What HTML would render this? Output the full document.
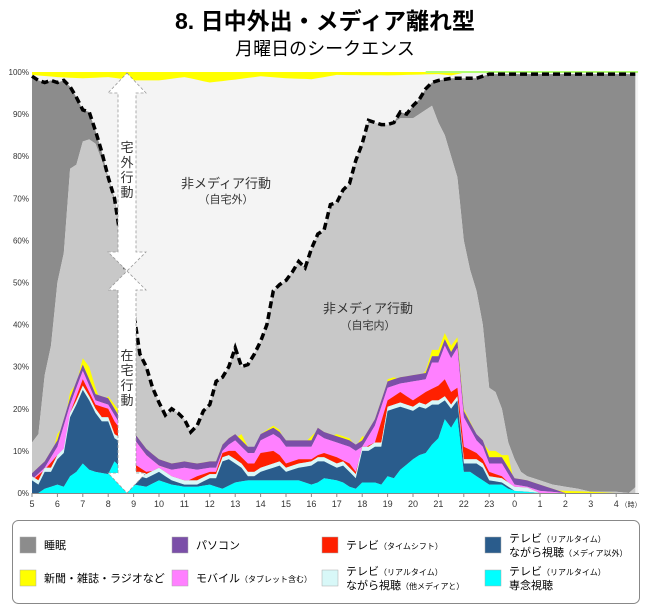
<!DOCTYPE html>
<html><head><meta charset="utf-8"><style>
body{margin:0;background:#fff;width:650px;height:611px;overflow:hidden;font-family:"Liberation Sans","Noto Sans CJK JP",sans-serif}
</style></head><body>
<svg id="s" width="650" height="611" xmlns="http://www.w3.org/2000/svg" font-family="Liberation Sans, Noto Sans CJK JP, sans-serif">
<text x="325" y="29" text-anchor="middle" font-size="23" font-weight="bold" fill="#000">8. 日中外出・メディア離れ型</text>
<text x="325" y="55" text-anchor="middle" font-size="18" fill="#000">月曜日のシークエンス</text>
<g id="plot"></g>
</svg>
<script>
const X=h=>32+(h-5)*25.4, Y=p=>493-p*4.21;
function P(s){const a=s.trim().split(/\s+/).map(t=>t.split(':').map(Number));return a;}
function at(pts,h){if(h<=pts[0][0])return pts[0][1];for(let i=1;i<pts.length;i++){if(h<=pts[i][0]){const[a,b]=pts[i-1],[c,d]=pts[i];return b+(d-b)*(h-a)/(c-a);}}return pts[pts.length-1][1];}
const H=[];for(let h=5;h<=28.87;h+=0.25)H.push(Math.min(h,28.86));
const cyan=P("5:0 5.25:0 5.5:1 6:2 6.25:1.5 6.5:4 6.75:5 7:7 7.25:5.5 7.5:5 8:4.5 8.25:7.5 8.5:6 9:2 9.5:1.5 10:3 10.5:2 11:1.5 11.5:1.5 12:2 12.5:1 13:2.5 13.5:3 14:3 15:3 15.5:3 16:2 16.25:2.5 16.5:3.5 17:3 17.25:2.5 17.5:1.5 17.75:1 18:2.5 18.5:2.5 18.75:2 19:4 19.25:3.5 19.5:5.5 20:8 20.25:9 20.5:9.5 20.75:11.5 21:13 21.25:17.5 21.5:15.5 21.75:18 22:5 22.25:5 22.5:4 22.75:3 23:2 23.5:2 23.75:1 24:0.5 25:0 29:0");
const blue=P("5:3 5.25:2 5.5:5 5.75:5 6:8 6.25:9.5 6.5:18 6.75:21 7:24.5 7.25:22 7.5:19 7.75:17 8:17 8.25:13 8.5:12 9:4 9.25:4 9.5:3.5 10:5 10.5:3 11:2 11.5:2 12:3.5 12.25:3.5 12.5:7.5 12.75:8 13:7 13.25:6 13.5:4 13.75:4 14:5 14.5:6 14.75:6.5 15:5 15.5:6 16:6.5 16.25:7.5 16.5:7.5 17:6 17.25:6.5 17.5:5 17.75:3.5 18:10 18.25:10 18.5:11 18.75:11 19:19.5 19.25:20 19.5:20.5 20:19.5 20.25:20.5 20.5:20 20.75:21 21:21 21.25:22 21.5:20 21.75:22 22:7 22.25:7 22.5:7 22.75:6 23:3 23.5:2.5 23.75:1.5 24:0.5 24.5:0.3 25:0 29:0");
const lc=blue.map(([h,v])=>[h,v>0?v+1:0]);
const red=P("5:3 5.5:5.5 6:9 6.25:10.5 6.5:19 7:27 7.5:21 8:20 8.25:17 8.5:15 9:7 9.5:5 10:5.5 10.5:3.5 11:2.5 11.5:4 12:5 12.25:5 12.5:9.5 12.75:10 13:10 13.5:7 13.75:7 14:9.5 14.5:10 14.75:9 15:7 15.5:8 16:8 16.25:9 16.5:9.5 17:8.5 17.5:7 17.75:5 18:10.5 18.5:12 19:22 19.5:24 20:22 20.5:24 21:25.5 21.25:27 21.5:24 21.75:25 22:11 22.5:9.5 22.75:8 23:5 23.5:4 24:1 24.5:0.5 25:0 29:0");
const pink=P("5:3.2 5.5:6 6:11 6.5:21 7:29 7.5:22 8:21 8.5:16 9:13 9.5:9 10:6.5 10.5:5.5 11:6 11.5:5.5 12:6 12.25:6 12.5:10 12.75:11.5 13:12.5 13.5:9.5 13.75:9.5 14:12.5 14.5:14 14.75:13 15:11 15.5:11 16:11 16.25:14 16.5:13 17:12 17.5:11 17.75:10 18:11 18.5:16 19:25 19.5:26 20:26.5 20.5:27 20.75:31 21:31 21.25:35 21.5:32 21.75:34.5 22:18 22.5:12.5 22.75:11 23:7 23.5:7 24:2 24.5:1.5 25:0.5 26:0 29:0");
const purp=pink.map(([h,v])=>[h,v>0.3?v+1.5:v]);
const yel=P("5:3.5 5.25:3.5 5.5:7 5.75:8 6:14 6.25:16 6.5:24 6.75:26 7:32 7.25:30 7.5:25 7.75:21 8:23 8.25:21 8.5:19 9:14 9.25:10 9.5:8 9.75:8.5 10:6 10.25:5.5 10.5:6 10.75:7 11:6.5 11.5:6 12:6.5 12.25:6.5 12.5:10.5 12.75:12.5 13:13 13.25:14 13.5:11 13.75:11 14:14 14.25:15 14.5:16 14.75:15 15:11.5 15.5:12 15.75:12 16:13.5 16.25:15 16.5:14 16.75:13.5 17:14 17.25:13.5 17.5:13 17.75:11 18:13.5 18.25:13 18.5:17 18.75:18 19:27 19.25:27.5 19.5:27 19.75:27.5 20:27 20.25:27.5 20.5:29 20.75:34 21:34 21.25:38 21.5:35 21.75:37 22:20 22.25:17 22.5:14 22.75:12 23:10 23.25:10 23.5:9 23.75:9 24:2 24.5:2 25:1 26:0.5 27:0.3 28:0 29:0");
const dash=P("5:99 5.25:98 5.5:97.5 5.75:98 6:97.5 6.25:98 6.5:96.5 6.75:94 7:91 7.25:90.5 7.5:86 7.75:81 8:75 8.25:70 8.5:60 8.75:50 9:43 9.25:33 9.5:30 9.75:25 10:21.5 10.25:18.5 10.5:20 10.75:19 11:17.5 11.25:14.5 11.5:16 11.75:19.5 12:21 12.25:26.5 12.5:27.5 12.75:30 13:34.5 13.25:30 13.5:30.5 13.75:33 14:36 14.25:40 14.5:48 14.75:49.5 15:50.5 15.25:52.5 15.5:55 15.75:53.5 16:58 16.25:61.5 16.5:62.5 16.75:68.5 17:69 17.25:72 17.5:73.5 17.75:79 18:83 18.25:88.5 18.5:88 18.75:87.5 19:87.5 19.25:88 19.5:90.5 19.75:90 20:92 20.25:93.5 20.5:96 20.75:97.5 21:98 21.5:98.5 22.5:98.5 23:99.5 29:99.5");
const lg=P("5:12 5.25:14 5.5:28 5.75:35 6:50 6.25:57 6.5:77 6.75:78 7:83.5 7.25:84 7.5:83 7.75:79 8:74.5 8.25:69 8.5:59.5 8.75:50 9:43 9.25:33 9.5:30 9.75:25 10:21.5 10.25:18.5 10.5:20 10.75:19 11:17.5 11.25:14.5 11.5:16 11.75:19.5 12:21 12.25:26.5 12.5:27.5 12.75:30 13:34.5 13.25:30 13.5:30.5 13.75:33 14:36 14.25:40 14.5:48 14.75:49.5 15:50.5 15.25:52.5 15.5:55 15.75:53.5 16:58 16.25:61.5 16.5:62.5 16.75:68.5 17:69 17.25:72 17.5:73.5 17.75:79 18:83 18.25:88.5 18.5:88 18.75:87.5 19:87.5 19.25:88 19.5:89 19.75:89 20:89 20.25:90 20.5:91 20.75:92 21:88 21.25:85 21.5:80 21.75:75 22:60 22.25:53 22.5:48 22.75:40 23:25 23.25:24 23.5:20 23.75:12 24:8 24.25:5 24.5:4 25:3 25.5:2 26:1.5 26.5:1 27:0.3 28:0.3 28.5:0 28.86:2");
const yb=P("5:99.3 6:98.8 7:98.5 8:98.8 9:98 10:98 11:98.8 12:97.5 13:98.2 14:99 15:98.5 16:98.3 17:99.3 19:99.2 21:99.5 21.5:99.2 22:99.8 29:99.8");
const g=document.getElementById('plot');let out='';
out+=`<rect x="${X(5)}" y="${Y(100)}" width="${X(28.86)-X(5)}" height="${Y(0)-Y(100)}" fill="#f4f4f4"/>`;
function band(lo,hi,col){let a=H.map(h=>X(h).toFixed(1)+','+Y(at(hi,h)).toFixed(1));let b=H.slice().reverse().map(h=>X(h).toFixed(1)+','+Y(lo?at(lo,h):0).toFixed(1));out+=`<polygon points="${a.join(' ')} ${b.join(' ')}" fill="${col}"/>`;}
const full=[[5,100],[29,100]];
band(yb,full,'#ffff00');
band(lg,dash,'#8c8c8c');
band(null,lg,'#c8c8c8');
band(purp,yel,'#ffff00');
band(pink,purp,'#7b4fa8');
band(red,pink,'#ff80ff');
band(lc,red,'#ff2000');
band(blue,lc,'#d8f8f8');
band(cyan,blue,'#2a5c8c');
band(null,cyan,'#00ffff');
out+=`<line x1="${X(20.5)}" y1="${Y(100)}" x2="${X(28.86)}" y2="${Y(100)}" stroke="#b0ff70" stroke-width="2"/>`;
let d=H.map((h,i)=>(i?'L':'M')+X(h).toFixed(1)+','+Y(at(dash,h)).toFixed(1)).join('');
out+=`<path d="${d}" fill="none" stroke="#000" stroke-width="3.5" stroke-dasharray="7,4"/>`;
// axes
out+=`<line x1="32" y1="493.5" x2="639" y2="493.5" stroke="#888"/>`;
for(let i=0;i<=10;i++){out+=`<text x="29" y="${Y(i*10)+3}" text-anchor="end" font-size="8" fill="#333">${i*10}%</text>`;}
for(let h=5;h<=28;h++){const lab=h%24;out+=`<line x1="${X(h)}" y1="493" x2="${X(h)}" y2="497" stroke="#888"/><text x="${X(h)}" y="507" text-anchor="middle" font-size="9" fill="#333">${lab}</text>`;}
out+=`<text x="631" y="507" text-anchor="middle" font-size="7" fill="#333">（時）</text>`;
// arrows
const cx=127;
out+=`<polygon points="${cx},73 146,93 136,93 136,252 146,252 ${cx},271 108,252 118,252 118,93 108,93" fill="#fff" stroke="#999" stroke-dasharray="3,2" stroke-width="0.8"/>`;
out+=`<polygon points="${cx},271 146,290 136,290 136,473 146,473 ${cx},493 108,473 118,473 118,290 108,290" fill="#fff" stroke="#999" stroke-dasharray="3,2" stroke-width="0.8"/>`;
['宅','外','行','動'].forEach((c,i)=>out+=`<text x="${cx}" y="${152+i*15}" text-anchor="middle" font-size="13" fill="#333">${c}</text>`);
['在','宅','行','動'].forEach((c,i)=>out+=`<text x="${cx}" y="${360+i*15}" text-anchor="middle" font-size="13" fill="#333">${c}</text>`);
out+=`<text x="226" y="188" text-anchor="middle" font-size="13" fill="#333">非メディア行動</text><text x="226" y="203" text-anchor="middle" font-size="11" fill="#333">（自宅外）</text>`;
out+=`<text x="368" y="313" text-anchor="middle" font-size="13" fill="#333">非メディア行動</text><text x="368" y="329" text-anchor="middle" font-size="11" fill="#333">（自宅内）</text>`;
// legend
out+=`<rect x="12.5" y="520.5" width="627" height="83" rx="6" fill="#fff" stroke="#888"/>`;
const L=[[20,537,'#8c8c8c','睡眠',''],[172,537,'#7b4fa8','パソコン',''],[322,537,'#ff2000','テレビ<tspan font-size="8">（タイムシフト）</tspan>',''],[485,537,'#2a5c8c','テレビ<tspan font-size="8">（リアルタイム）</tspan>','ながら視聴<tspan font-size="8">（メディア以外）</tspan>'],
[20,570,'#ffff00','新聞・雑誌・ラジオなど',''],[172,570,'#ff80ff','モバイル<tspan font-size="8">（タブレット含む）</tspan>',''],[322,570,'#d8f8f8','テレビ<tspan font-size="8">（リアルタイム）</tspan>','ながら視聴<tspan font-size="8">（他メディアと）</tspan>'],[485,570,'#00ffff','テレビ<tspan font-size="8">（リアルタイム）</tspan>','専念視聴']];
L.forEach(([x,y,c,t1,t2])=>{out+=`<rect x="${x}" y="${y}" width="16" height="16" fill="${c}" stroke="#aaa" stroke-width="0.5"/>`;
if(t2){out+=`<text x="${x+24}" y="${y+5}" font-size="11" fill="#000">${t1}</text><text x="${x+24}" y="${y+19}" font-size="11" fill="#000">${t2}</text>`;}
else out+=`<text x="${x+24}" y="${y+12}" font-size="11" fill="#000">${t1}</text>`;});
g.innerHTML=out;
</script>
</body></html>
